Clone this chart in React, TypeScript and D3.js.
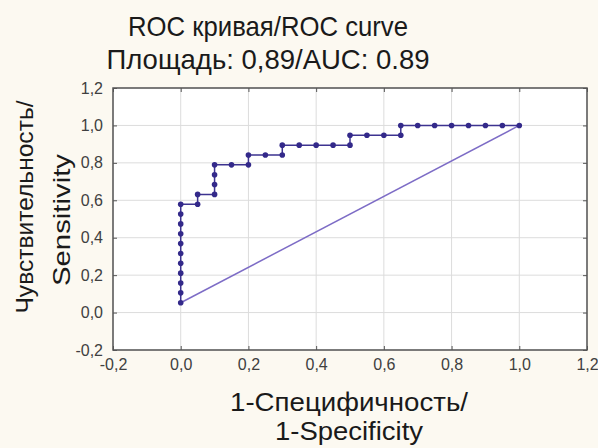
import React, { useEffect, useRef } from "react";
import * as d3 from "d3";

// ROC points: 1-specificity (x) and sensitivity (y, counted in 1/19 steps)
const fpr = [
  0, 0, 0, 0, 0, 0, 0, 0, 0, 0, 0,
  0.05, 0.05,
  0.1, 0.1, 0.1, 0.1,
  0.15, 0.2, 0.2, 0.25, 0.3, 0.3,
  0.35, 0.4, 0.45, 0.5, 0.5,
  0.55, 0.6, 0.65, 0.65,
  0.7, 0.75, 0.8, 0.85, 0.9, 0.95, 1.0,
];
const tprSteps = [
  1, 2, 3, 4, 5, 6, 7, 8, 9, 10, 11,
  11, 12,
  12, 13, 14, 15,
  15, 15, 16, 16, 16, 17,
  17, 17, 17, 17, 18,
  18, 18, 18, 19,
  19, 19, 19, 19, 19, 19, 19,
];
const tpr = tprSteps.map((s) => s / 19);

const refLine = [
  [0, 1 / 19],
  [1, 1],
];

const tickValues = [-0.2, 0, 0.2, 0.4, 0.6, 0.8, 1.0, 1.2];
const fmt = (v: number) => v.toFixed(1).replace(".", ",");

const titleLines = ["ROC кривая/ROC curve", "Площадь: 0,89/AUC: 0.89"];
const xLabelLines = ["1-Специфичность/", "1-Specificity"];
const yLabelLines = ["Чувствительность/", "Sensitivity"];

const W = 598;
const H = 448;
const FONT = "Arial, 'Liberation Sans', Helvetica, sans-serif";

export default function App() {
  const ref = useRef<SVGSVGElement>(null);

  useEffect(() => {
    const svg = d3.select(ref.current);
    svg.selectAll("*").remove();

    const margin = { top: 88, right: 11, bottom: 98, left: 113 };
    const width = W - margin.left - margin.right;
    const height = H - margin.top - margin.bottom;

    svg.append("rect").attr("width", W).attr("height", H).attr("fill", "#fcf9f1");

    const g = svg
      .append("g")
      .attr("transform", "translate(" + margin.left + "," + margin.top + ")");

    g.append("rect").attr("width", width).attr("height", height).attr("fill", "#ffffff");

    const x = d3.scaleLinear().domain([-0.2, 1.2]).range([0, width]);
    const y = d3.scaleLinear().domain([-0.2, 1.2]).range([height, 0]);

    // grid
    g.append("g")
      .selectAll("line")
      .data(tickValues)
      .enter()
      .append("line")
      .attr("x1", (d) => x(d))
      .attr("x2", (d) => x(d))
      .attr("y1", 0)
      .attr("y2", height)
      .attr("stroke", "#dcdcdc")
      .attr("stroke-width", 1);
    g.append("g")
      .selectAll("line")
      .data(tickValues)
      .enter()
      .append("line")
      .attr("x1", 0)
      .attr("x2", width)
      .attr("y1", (d) => y(d))
      .attr("y2", (d) => y(d))
      .attr("stroke", "#dcdcdc")
      .attr("stroke-width", 1);

    // axes with inner ticks
    const styleAxis = (sel: any) => {
      sel.select(".domain").remove();
      sel.selectAll(".tick line").attr("stroke", "#555");
      sel
        .selectAll(".tick text")
        .attr("fill", "#404040")
        .style("font-family", FONT)
        .style("font-size", "16px");
    };

    g.append("g")
      .attr("transform", "translate(0," + height + ")")
      .call(d3.axisBottom(x).tickValues(tickValues).tickFormat(fmt as any).tickSizeInner(-4).tickPadding(9))
      .call(styleAxis);
    g.append("g")
      .call(d3.axisLeft(y).tickValues(tickValues).tickFormat(fmt as any).tickSizeInner(-4).tickPadding(10))
      .call(styleAxis);
    g.append("g")
      .call(d3.axisTop(x).tickValues(tickValues).tickFormat(() => "").tickSizeInner(-4))
      .call(styleAxis);
    g.append("g")
      .attr("transform", "translate(" + width + ",0)")
      .call(d3.axisRight(y).tickValues(tickValues).tickFormat(() => "").tickSizeInner(-4))
      .call(styleAxis);

    g.append("rect")
      .attr("width", width)
      .attr("height", height)
      .attr("fill", "none")
      .attr("stroke", "#555")
      .attr("stroke-width", 1.5);

    // reference line
    const line = d3
      .line<number[]>()
      .x((d) => x(d[0]))
      .y((d) => y(d[1]));
    g.append("path")
      .attr("d", line(refLine))
      .attr("fill", "none")
      .attr("stroke", "#7d6cc6")
      .attr("stroke-width", 1.5);

    // ROC curve
    const pts = fpr.map((f, i) => [f, tpr[i]]);
    g.append("path")
      .attr("d", line(pts))
      .attr("fill", "none")
      .attr("stroke", "#3d3390")
      .attr("stroke-width", 1.5);
    g.append("g")
      .selectAll("circle")
      .data(pts)
      .enter()
      .append("circle")
      .attr("cx", (d) => x(d[0]))
      .attr("cy", (d) => y(d[1]))
      .attr("r", 2.8)
      .attr("fill", "#33298a");

    // titles (text is a bit taller than wide in the original, so widths are fixed)
    const titleLen = [280, 323];
    svg
      .append("g")
      .selectAll("text")
      .data(titleLines)
      .enter()
      .append("text")
      .attr("x", 268)
      .attr("y", (d, i) => 36 + i * 33)
      .attr("text-anchor", "middle")
      .attr("textLength", (d, i) => titleLen[i])
      .attr("lengthAdjust", "spacingAndGlyphs")
      .attr("fill", "#1a1a1a")
      .style("font-family", FONT)
      .style("font-size", "28px")
      .text((d) => d);

    const xLen = [238, 148];
    svg
      .append("g")
      .selectAll("text")
      .data(xLabelLines)
      .enter()
      .append("text")
      .attr("x", 349)
      .attr("y", (d, i) => 411 + i * 29)
      .attr("text-anchor", "middle")
      .attr("textLength", (d, i) => xLen[i])
      .attr("lengthAdjust", "spacingAndGlyphs")
      .attr("fill", "#1a1a1a")
      .style("font-family", FONT)
      .style("font-size", "26px")
      .text((d) => d);

    const yLen = [213, 132];
    const yPos = [
      [33, 207],
      [70, 220],
    ];
    svg
      .append("g")
      .selectAll("text")
      .data(yLabelLines)
      .enter()
      .append("text")
      .attr("transform", (d, i) => "translate(" + yPos[i][0] + "," + yPos[i][1] + ")rotate(-90)")
      .attr("text-anchor", "middle")
      .attr("textLength", (d, i) => yLen[i])
      .attr("lengthAdjust", "spacingAndGlyphs")
      .attr("fill", "#1a1a1a")
      .style("font-family", FONT)
      .style("font-size", "24px")
      .text((d) => d);
  }, []);

  return (
    <svg
      ref={ref}
      width={W}
      height={H}
      style={{ position: "fixed", left: 0, top: 0, display: "block" }}
    />
  );
}
